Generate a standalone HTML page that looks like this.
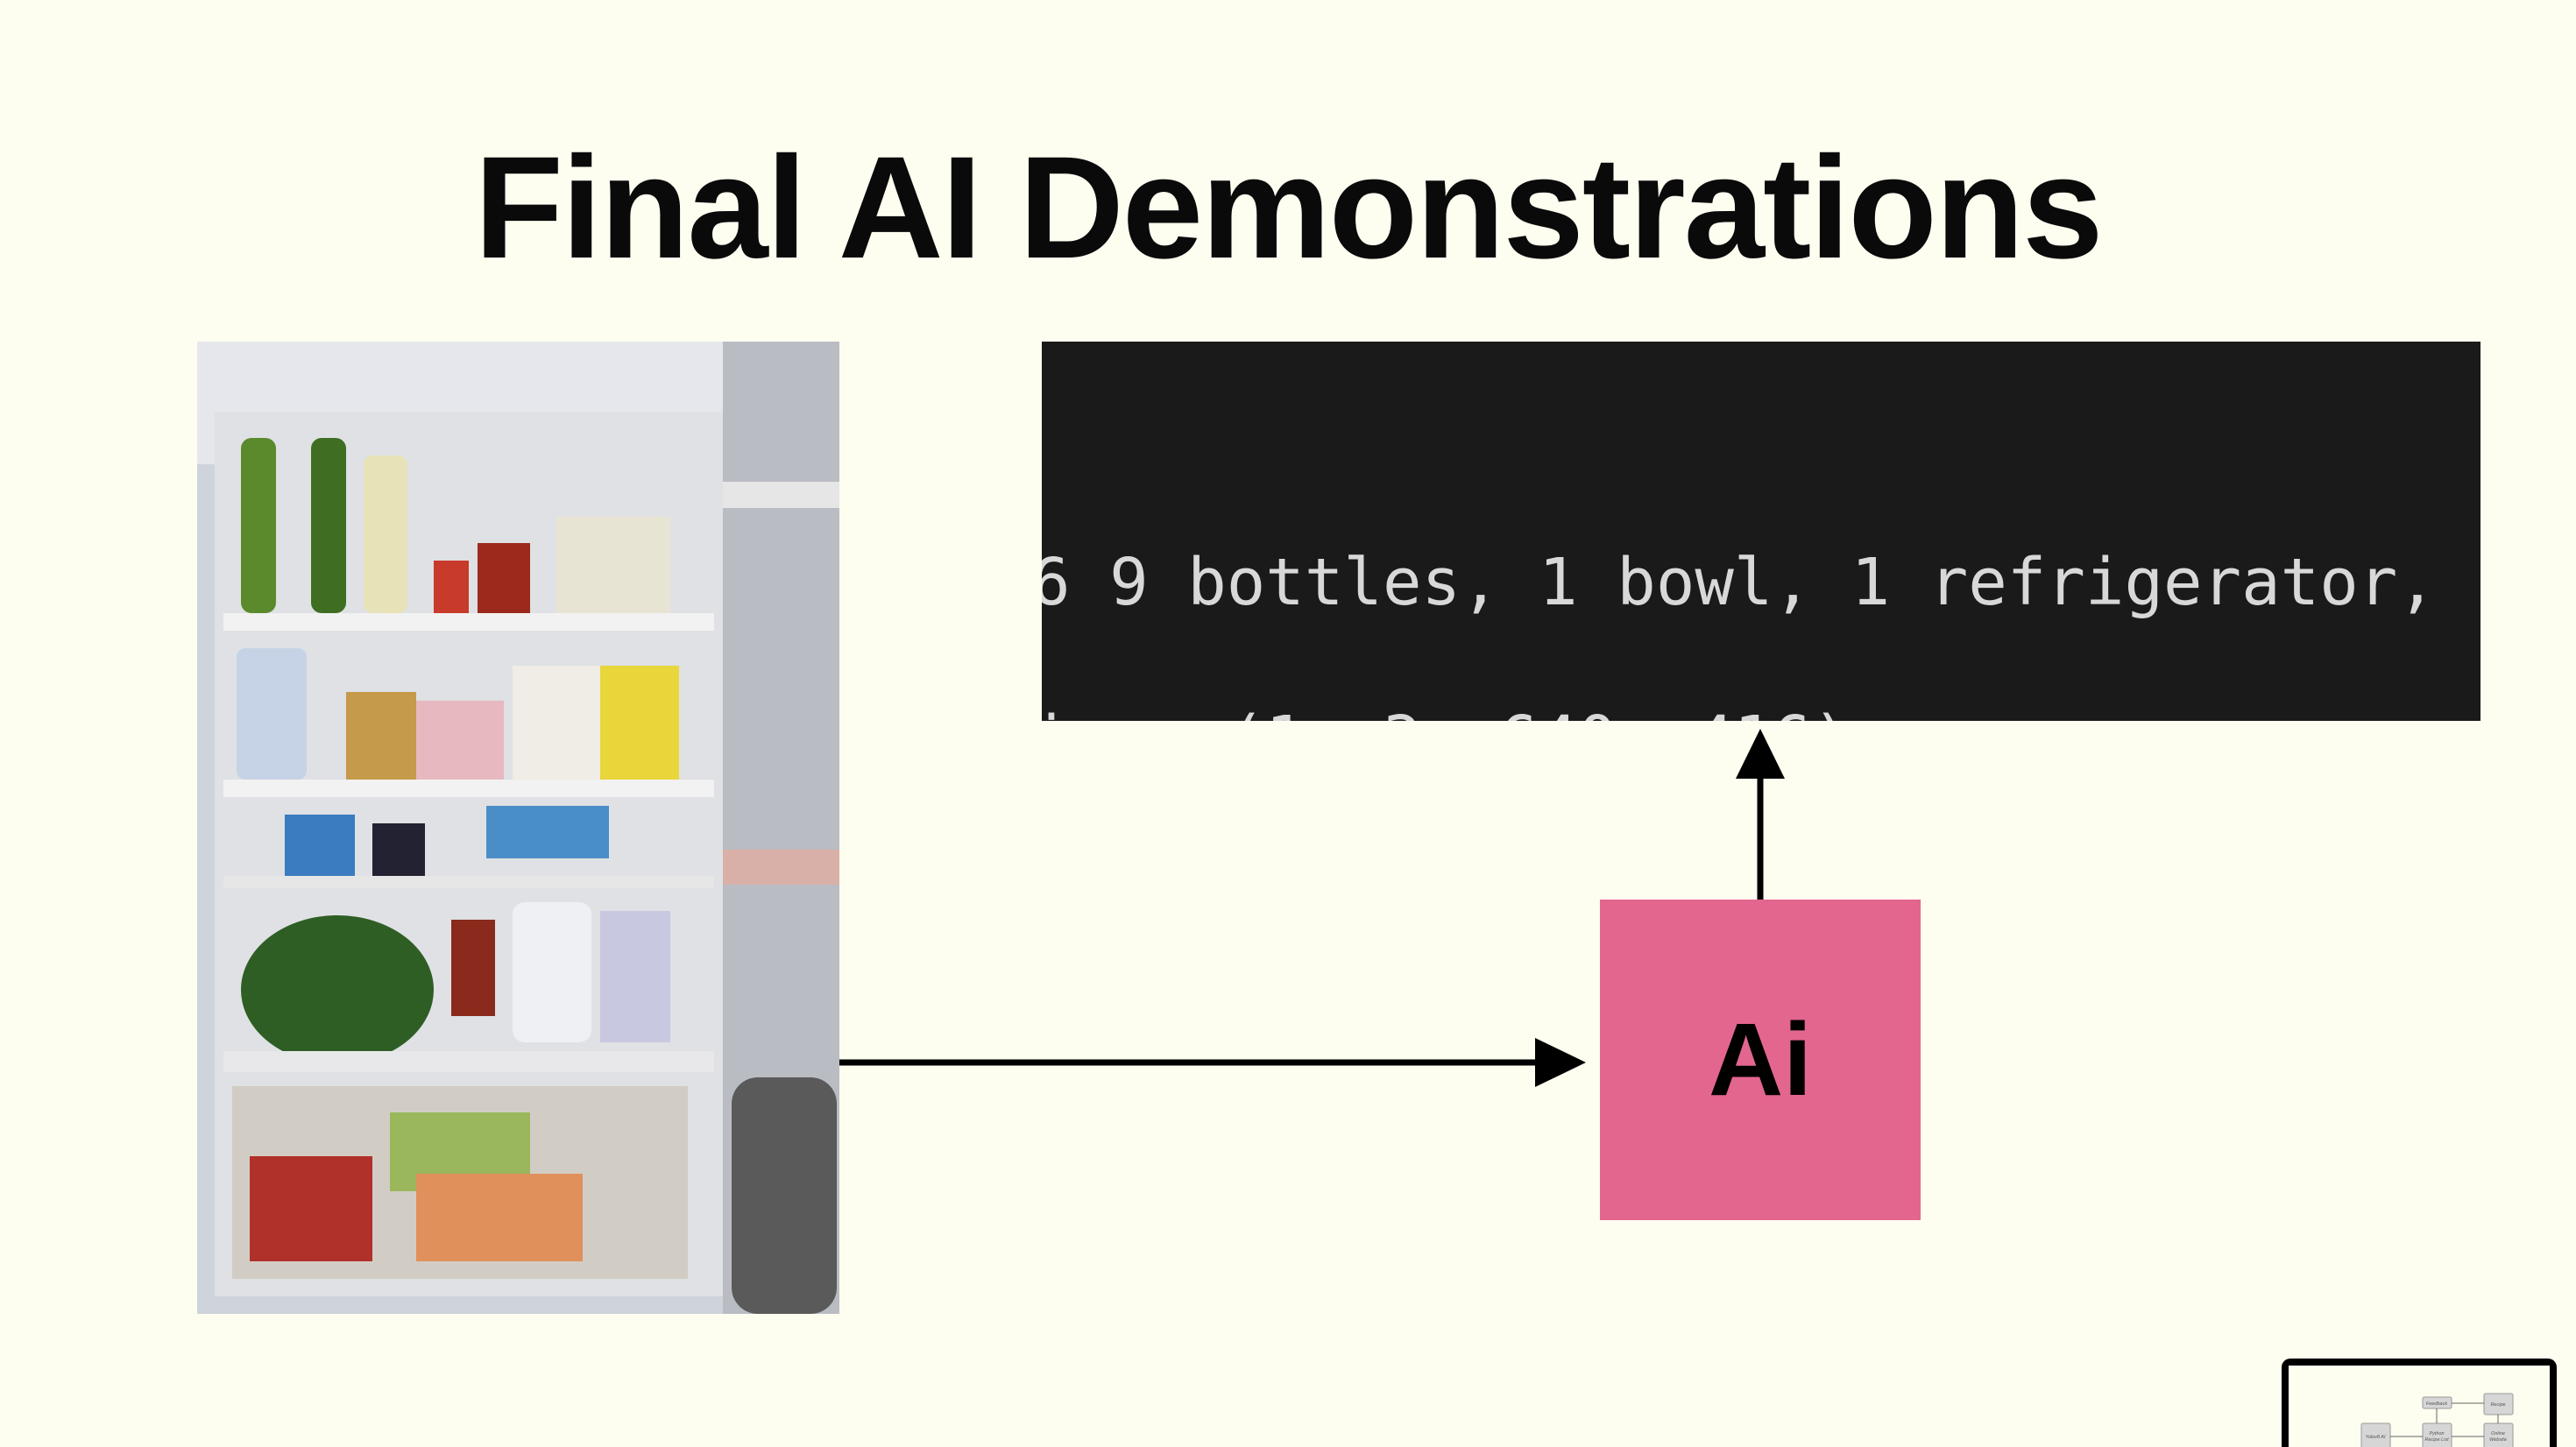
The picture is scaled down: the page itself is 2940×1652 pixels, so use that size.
<!DOCTYPE html>
<html><head><meta charset="utf-8"><style>
html,body{margin:0;padding:0}
body{width:2940px;height:1652px;background:#fdfdf0;position:relative;overflow:hidden;font-family:"Liberation Sans",sans-serif}
.title{position:absolute;left:0;width:2940px;top:138px;text-align:center;font-weight:bold;font-size:166px;line-height:200px;color:#0a0a0a;letter-spacing:-2px}
.code{position:absolute;left:1189px;top:390px;width:1642px;height:433px;background:#1a1a1a;overflow:hidden}
.code div{position:absolute;left:-12px;font-family:"DejaVu Sans Mono","Liberation Mono",monospace;font-size:74px;line-height:84px;color:#d8d8d8;white-space:pre}
.ai{position:absolute;left:1826px;top:1027px;width:366px;height:366px;background:#e3668f;display:flex;align-items:center;justify-content:center;font-weight:bold;font-size:118px;color:#000}
.photo{position:absolute;left:225px;top:390px;width:733px;height:1110px;overflow:hidden;background:#d9dbe0}
</style></head><body>
<div class="title">Final AI Demonstrations</div>

<div class="photo">
<svg width="733" height="1110" viewBox="0 0 733 1110">
<rect width="733" height="1110" fill="#cfd3da"/>
<rect x="0" y="0" width="600" height="140" fill="#e6e7ec"/>
<rect x="600" y="0" width="133" height="1110" fill="#b9bcc2"/>
<rect x="20" y="80" width="580" height="1010" fill="#dfe1e4"/>
<rect x="50" y="110" width="40" height="200" rx="12" fill="#5b8a2c"/>
<rect x="130" y="110" width="40" height="200" rx="12" fill="#3f6d22"/>
<rect x="190" y="130" width="50" height="180" rx="10" fill="#e8e2b8"/>
<rect x="320" y="230" width="60" height="80" fill="#9c2a1c"/>
<rect x="410" y="200" width="130" height="110" fill="#e8e4d4"/>
<rect x="270" y="250" width="40" height="60" fill="#c83a2a"/>
<rect x="30" y="310" width="560" height="20" fill="#f2f2f2"/>
<rect x="45" y="350" width="80" height="150" rx="10" fill="#c6d3e6"/>
<rect x="170" y="400" width="80" height="100" fill="#c59a4a"/>
<rect x="250" y="410" width="100" height="90" fill="#e8b8c0"/>
<rect x="360" y="370" width="100" height="130" fill="#f0ece6"/>
<rect x="460" y="370" width="90" height="130" fill="#e8d63a"/>
<rect x="30" y="500" width="560" height="20" fill="#f2f2f2"/>
<rect x="100" y="540" width="80" height="70" fill="#3b7bc0"/>
<rect x="200" y="550" width="60" height="60" fill="#223"/>
<rect x="330" y="530" width="140" height="60" fill="#4a8ec8"/>
<rect x="30" y="610" width="560" height="14" fill="#e6e6e6"/>
<ellipse cx="160" cy="740" rx="110" ry="85" fill="#2f5e25"/>
<rect x="290" y="660" width="50" height="110" fill="#8a2a1c"/>
<rect x="360" y="640" width="90" height="160" rx="14" fill="#eef0f4"/>
<rect x="460" y="650" width="80" height="150" fill="#c8c8e0"/>
<rect x="30" y="810" width="560" height="24" fill="#e8e8ea"/>
<rect x="40" y="850" width="520" height="220" fill="#d2cdc4"/>
<rect x="60" y="930" width="140" height="120" fill="#b0302a"/>
<rect x="220" y="880" width="160" height="90" fill="#9ab75c"/>
<rect x="250" y="950" width="190" height="100" fill="#e0905a"/>
<rect x="610" y="840" width="120" height="270" rx="30" fill="#5a5a5a"/>
<rect x="600" y="160" width="133" height="30" fill="#e6e6e6"/>
<rect x="600" y="580" width="133" height="40" fill="#d9b0a8"/>
</svg>
</div>

<div class="code">
<div style="top:233px">6 9 bottles, 1 bowl, 1 refrigerator, 1 sink</div>
<div style="top:413px">ions (1, 3, 640, 416)</div>
</div>

<svg style="position:absolute;left:0;top:0" width="2940" height="1652">
<line x1="958" y1="1213" x2="1755" y2="1213" stroke="#000" stroke-width="7"/>
<polygon points="1752,1185 1810,1213 1752,1241" fill="#000"/>
<line x1="2009" y1="1027" x2="2009" y2="885" stroke="#000" stroke-width="7"/>
<polygon points="1981,889 2009,832 2037,889" fill="#000"/>
</svg>

<div class="ai">Ai</div>

<svg style="position:absolute;left:2596px;top:1545px" width="340" height="107">
<rect x="8" y="6" width="314" height="120" rx="10" fill="#000"/>
<rect x="16" y="14" width="298" height="110" fill="#fdfdf0"/>
<g fill="#d6d6d6" stroke="#999" stroke-width="1">
<rect x="169" y="50" width="33" height="13" rx="2"/>
<rect x="239" y="46" width="33" height="24" rx="2"/>
<rect x="99" y="80" width="33" height="30" rx="2"/>
<rect x="169" y="80" width="33" height="30" rx="2"/>
<rect x="239" y="80" width="33" height="30" rx="2"/>
</g>
<g stroke="#666" stroke-width="1">
<line x1="239" y1="57" x2="202" y2="57"/><line x1="185" y1="63" x2="185" y2="80"/>
<line x1="132" y1="95" x2="169" y2="95"/><line x1="202" y1="95" x2="239" y2="95"/><line x1="255" y1="80" x2="255" y2="70"/>
</g>
<g fill="#555" font-family="Liberation Sans,sans-serif" font-size="5.5" font-style="italic" text-anchor="middle">
<text x="185" y="59">Feedback</text><text x="255" y="60">Recipe</text>
<text x="115" y="97">Yolov8 AI</text><text x="185" y="93">Python</text><text x="185" y="100">Recipe List</text>
<text x="255" y="93">Online</text><text x="255" y="100">Website</text>
</g>
</svg>
</body></html>
